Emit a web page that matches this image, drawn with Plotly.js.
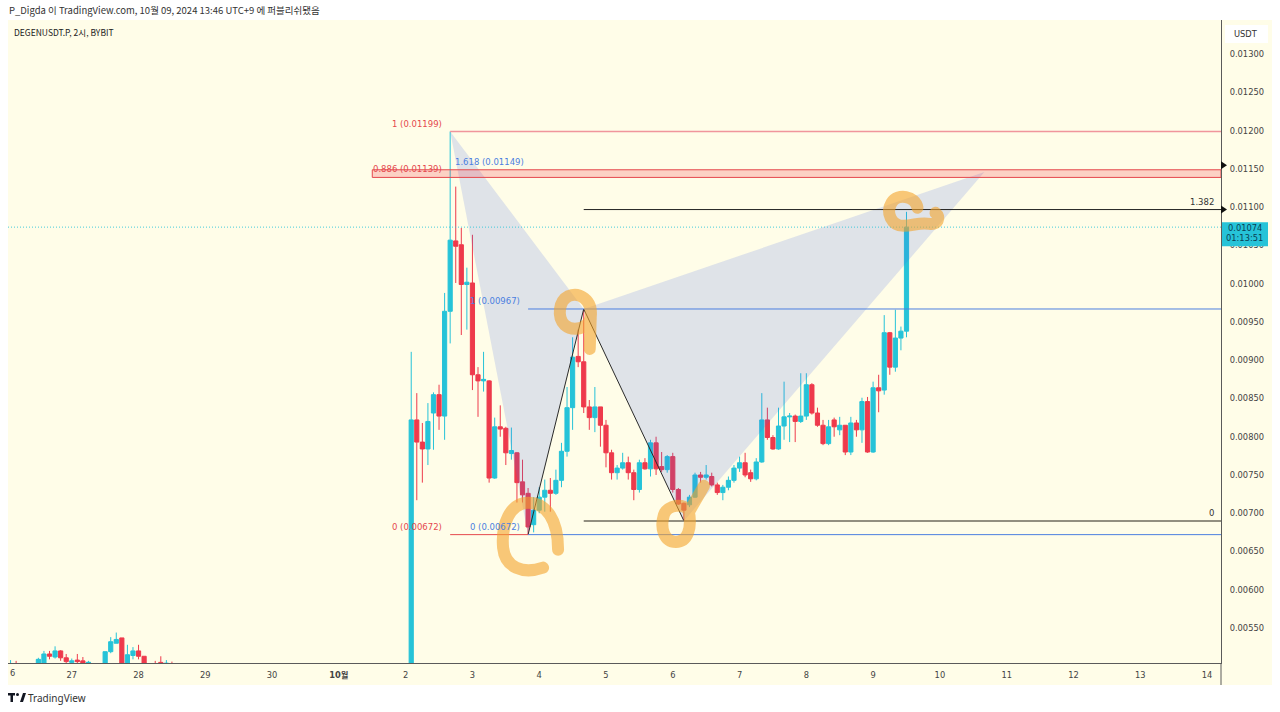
<!DOCTYPE html>
<html><head><meta charset="utf-8">
<script src="https://cdn.plot.ly/plotly-3.0.1.min.js"></script>
<style>html,body{margin:0;padding:0;background:#fff;}#chart{width:1280px;height:712px;}</style>
</head><body><div id="chart"></div>
<script>
// ---------------- DATA ----------------
// 2h candles, DEGENUSDT.P (BYBIT)
const earlyStart = Date.UTC(2024, 8, 26, 0);   // Sep 26 00:00
const earlySlots = [0,1,2,6,7,8,9,10,11,12,13,14,15,18,19,20,21,22,23,24,25,27,28,29,30];
const earlyOpen  = [0.00530,0.00495,0.00497,0.00496,0.00502,0.00516,0.00512,0.00520,0.00511,0.00505,0.00508,0.00507,0.00504,0.00498,0.00519,0.00530,0.00537,0.00502,0.00514,0.00520,0.00513,0.00503,0.00505,0.00501,0.00503];
const earlyHigh  = [0.00532,0.00508,0.00507,0.00511,0.00520,0.00520,0.00526,0.00521,0.00516,0.00510,0.00516,0.00512,0.00507,0.00519,0.00538,0.00544,0.00537,0.00528,0.00525,0.00528,0.00513,0.00507,0.00513,0.00508,0.00506];
const earlyLow   = [0.00490,0.00490,0.00492,0.00494,0.00500,0.00509,0.00510,0.00507,0.00503,0.00500,0.00500,0.00500,0.00500,0.00496,0.00517,0.00530,0.00497,0.00500,0.00509,0.00509,0.00500,0.00498,0.00499,0.00498,0.00498];
const earlyClose = [0.00495,0.00497,0.00494,0.00509,0.00516,0.00513,0.00520,0.00511,0.00506,0.00507,0.00506,0.00504,0.00505,0.00519,0.00532,0.00535,0.00500,0.00515,0.00520,0.00513,0.00503,0.00501,0.00503,0.00504,0.00502];

const mainStart = Date.UTC(2024, 9, 2, 2);     // Oct 2 02:00, consecutive 2h bars
const mainOpen = [0.00455,0.00822,0.00793,0.00784,0.00831,0.00855,0.00827,0.00964,0.01056,0.01051,
0.00999,0.01001,0.00881,0.00873,0.00873,0.00746,0.00813,0.00811,0.00778,0.00779,
0.00741,0.00726,0.00685,0.00704,0.00721,0.00730,0.00726,0.00743,0.00781,0.00838,
0.00905,0.00898,0.00839,0.00825,0.00839,0.00815,0.00779,0.00753,0.00759,0.00766,
0.00753,0.00731,0.00766,0.00758,0.00792,0.00761,0.00757,0.00774,0.00731,0.00713,
0.00711,0.00721,0.00750,0.00747,0.00748,0.00737,0.00727,0.00734,0.00743,0.00759,
0.00766,0.00753,0.00745,0.00767,0.00822,0.00799,0.00784,0.00814,0.00826,0.00827,
0.00820,0.00827,0.00868,0.00831,0.00815,0.00791,0.00822,0.00809,0.00815,0.00780,
0.00818,0.00809,0.00846,0.00780,0.00864,0.00861,0.00936,0.00891,0.00929,0.00938];
const mainHigh = [0.00911,0.00857,0.00818,0.00844,0.00858,0.00868,0.00988,0.01199,0.01127,0.01073,
0.01021,0.01064,0.00891,0.00911,0.00874,0.00825,0.00841,0.00813,0.00812,0.00780,
0.00770,0.00733,0.00721,0.00734,0.00744,0.00746,0.00757,0.00792,0.00865,0.00930,
0.00940,0.00967,0.00848,0.00865,0.00839,0.00822,0.00783,0.00763,0.00779,0.00774,
0.00757,0.00770,0.00772,0.00796,0.00800,0.00780,0.00776,0.00779,0.00733,0.00714,
0.00724,0.00753,0.00754,0.00763,0.00753,0.00740,0.00737,0.00748,0.00763,0.00774,
0.00779,0.00757,0.00772,0.00857,0.00838,0.00802,0.00838,0.00872,0.00831,0.00829,
0.00883,0.00883,0.00870,0.00838,0.00822,0.00822,0.00825,0.00826,0.00815,0.00826,
0.00822,0.00851,0.00852,0.00872,0.00881,0.00959,0.00937,0.00966,0.00944,0.01094];
const mainLow = [0.00450,0.00717,0.00740,0.00763,0.00783,0.00809,0.00796,0.00922,0.01001,0.00933,
0.00940,0.00861,0.00826,0.00859,0.00740,0.00745,0.00800,0.00763,0.00770,0.00714,
0.00714,0.00672,0.00675,0.00700,0.00702,0.00702,0.00724,0.00734,0.00774,0.00809,
0.00891,0.00831,0.00809,0.00806,0.00787,0.00760,0.00744,0.00744,0.00757,0.00744,
0.00717,0.00727,0.00757,0.00748,0.00750,0.00754,0.00753,0.00727,0.00711,0.00690,
0.00708,0.00720,0.00740,0.00744,0.00735,0.00724,0.00717,0.00730,0.00740,0.00754,
0.00747,0.00741,0.00743,0.00766,0.00796,0.00783,0.00783,0.00796,0.00793,0.00793,
0.00818,0.00822,0.00829,0.00813,0.00789,0.00789,0.00800,0.00802,0.00776,0.00776,
0.00800,0.00792,0.00779,0.00779,0.00832,0.00855,0.00881,0.00885,0.00913,0.00930];
const mainClose = [0.00822,0.00793,0.00784,0.00820,0.00855,0.00827,0.00964,0.01057,0.01049,0.00999,
0.01002,0.00881,0.00873,0.00875,0.00746,0.00813,0.00810,0.00779,0.00782,0.00740,
0.00724,0.00682,0.00704,0.00721,0.00730,0.00726,0.00743,0.00781,0.00838,0.00904,
0.00898,0.00839,0.00825,0.00839,0.00815,0.00779,0.00753,0.00759,0.00766,0.00753,
0.00731,0.00766,0.00758,0.00792,0.00758,0.00757,0.00774,0.00731,0.00712,0.00704,
0.00721,0.00750,0.00747,0.00750,0.00737,0.00727,0.00734,0.00743,0.00759,0.00766,
0.00750,0.00745,0.00767,0.00822,0.00799,0.00784,0.00814,0.00826,0.00827,0.00820,
0.00827,0.00868,0.00831,0.00815,0.00791,0.00813,0.00813,0.00815,0.00780,0.00818,
0.00809,0.00846,0.00780,0.00864,0.00860,0.00936,0.00891,0.00929,0.00938,0.01074];

// Harmonic pattern points
const patternNames  = ['X','A','B','C','D'];
const patternTimes  = ['2024-10-02 16:00','2024-10-03 20:00','2024-10-04 16:00','2024-10-06 04:00','2024-10-10 16:00'];
const patternPrices = [0.01199, 0.00672, 0.00967, 0.00690, 0.01146];

// Fib levels
const xaLevels = [1, 0.886, 0];      const xaPrices = [0.01199, 0.01139, 0.00672];
const abLevels = [1.618, 1, 0];      const abPrices = [0.01149, 0.00967, 0.00672];
const cdLevels = [1.382, 0];         const cdPrices = [0.01097, 0.00690];
const zoneStart = '2024-10-01 12:00';
const lastPrice = 0.01074;
const countdown = '01:13:51';

// Axis ticks
const tickDates  = ['2024-09-27','2024-09-28','2024-09-29','2024-09-30','2024-10-01','2024-10-02','2024-10-03','2024-10-04','2024-10-05','2024-10-06','2024-10-07','2024-10-08','2024-10-09','2024-10-10','2024-10-11','2024-10-12','2024-10-13','2024-10-14'];
const tickLabels = ['27','28','29','30','<b>10월</b>','2','3','4','5','6','7','8','9','10','11','12','13','14'];
const priceTicks = [0.0055,0.0060,0.0065,0.0070,0.0075,0.0080,0.0085,0.0090,0.0095,0.0100,0.0105,0.0110,0.0115,0.0120,0.0125,0.0130];

// ---------------- BUILD ----------------
function slot(startMs, k){ return new Date(startMs + k*7200000).toISOString().slice(0,16).replace('T',' '); }
const times = earlySlots.map(k => slot(earlyStart, k)).concat(mainOpen.map((_, i) => slot(mainStart, i)));
const O = earlyOpen.concat(mainOpen), H = earlyHigh.concat(mainHigh), Lo = earlyLow.concat(mainLow), C = earlyClose.concat(mainClose);

const xStart = '2024-09-26 01:05', xEnd = '2024-10-14 05:02';
const L=8, R=1221, T=20, B=663;
const fx = p => (p-L)/(R-L), fy = p => (B-p)/(B-T);

const CYAN='#26C3D8', RED='#EE3A4C', BLUE='#4C7FE0', FIBRED='#E5484D';

const traces = [
  {type:'scatter', mode:'lines', x:[patternTimes[0],patternTimes[1],patternTimes[2],patternTimes[0]], y:[patternPrices[0],patternPrices[1],patternPrices[2],patternPrices[0]],
   fill:'toself', fillcolor:'rgba(66,100,230,0.17)', line:{width:0}, hoverinfo:'skip', showlegend:false},
  {type:'scatter', mode:'lines', x:[patternTimes[2],patternTimes[3],patternTimes[4],patternTimes[2]], y:[patternPrices[2],patternPrices[3],patternPrices[4],patternPrices[2]],
   fill:'toself', fillcolor:'rgba(66,100,230,0.17)', line:{width:0}, hoverinfo:'skip', showlegend:false},
  {type:'candlestick', x:times, open:O, high:H, low:Lo, close:C,
   increasing:{line:{color:CYAN, width:1}, fillcolor:CYAN},
   decreasing:{line:{color:RED, width:1}, fillcolor:RED},
   whiskerwidth:0, hoverinfo:'skip', showlegend:false},
  {type:'scatter', mode:'lines', x:patternTimes.slice(1,4), y:patternPrices.slice(1,4), line:{color:'#2a2a2a', width:1}, hoverinfo:'skip', showlegend:false}
];

const hline = (x0, y, color, width, dash) => ({type:'line', xref:'x', yref:'y', x0:x0, x1:xEnd, y0:y, y1:y, line:{color:color, width:width, dash:dash||'solid'}, layer:'above'});

const orange = 'rgba(243,163,43,0.6)';
const scribble = (t, p, path) => ({type:'path', xref:'x', yref:'y', xsizemode:'pixel', ysizemode:'pixel', xanchor:t, yanchor:p, path:path, line:{color:orange, width:12}, layer:'above'});

const shapes = [
  {type:'rect', xref:'paper', yref:'paper', x0:fx(8), x1:fx(1272), y0:fy(685), y1:fy(20), fillcolor:'#FFFDE8', line:{width:0}, layer:'below'},
  {type:'rect', xref:'paper', yref:'paper', x0:fx(1225), x1:fx(1268), y0:fy(43), y1:fy(25), fillcolor:'#ffffff', line:{width:0}, layer:'above'},
  {type:'line', xref:'paper', yref:'paper', x0:1, x1:1, y0:fy(685), y1:0, line:{color:'#5a5a5a', width:1}},
  // fib / zone lines
  {type:'rect', xref:'x', yref:'y', x0:zoneStart, x1:xEnd, y0:xaPrices[1], y1:abPrices[0], fillcolor:'rgba(242,54,69,0.22)', line:{color:FIBRED, width:1}, layer:'above'},
  hline(patternTimes[0], xaPrices[0], '#F0959B', 1.5),
  {type:'line', xref:'x', yref:'y', x0:patternTimes[0], x1:patternTimes[1], y0:xaPrices[2], y1:xaPrices[2], line:{color:FIBRED, width:1}, layer:'above'},
  hline(patternTimes[1], abPrices[1], BLUE, 1),
  hline(patternTimes[1], abPrices[2], BLUE, 1),
  hline(patternTimes[2], cdPrices[0], '#222222', 1),
  hline(patternTimes[2], cdPrices[1], '#6e6a5e', 1.5),
  {type:'line', xref:'paper', yref:'y', x0:0, x1:1, y0:lastPrice, y1:lastPrice, line:{color:'rgba(38,195,216,0.85)', width:1, dash:'1px,2px'}, layer:'above'},
  // price tag + arrows on axis
  {type:'rect', xref:'paper', yref:'y', ysizemode:'pixel', yanchor:lastPrice, x0:fx(1222), x1:fx(1268), y0:-19, y1:5, fillcolor:CYAN, line:{width:0}, layer:'above'},
  {type:'path', xref:'paper', yref:'y', xsizemode:'pixel', ysizemode:'pixel', xanchor:1, yanchor:0.01155, path:'M0,4 L6,0 L0,-4 Z', fillcolor:'#111', line:{width:0}, layer:'above'},
  {type:'path', xref:'paper', yref:'y', xsizemode:'pixel', ysizemode:'pixel', xanchor:1, yanchor:cdPrices[0], path:'M0,4 L6,0 L0,-4 Z', fillcolor:'#111', line:{width:0}, layer:'above'},
  // hand drawn marks
  scribble(patternTimes[2], patternPrices[2], 'M7,-8 C9,10 -5,17 -15,13 C-25,8 -27,-8 -19,-16 C-11,-23 5,-20 7,-8 L6,-40'),
  scribble(patternTimes[1], patternPrices[1], 'M30,-15 C30,15 18,32 0,32 C-18,32 -27,10 -25,-13 C-23,-33 -5,-40 15,-33'),
  scribble(patternTimes[3], patternPrices[3], 'M5,9 C1,19 -17,16 -20,6 C-24,-7 -20,-21 -8,-21 C4,-21 8,-7 5,9 L20,35'),
  scribble(times[times.length-1], mainHigh[mainHigh.length-1], 'M11,4 C9,16 -9,19 -15,9 C-21,-1 -15,-14 -3,-14 C7,-14 13,-10 23,-12 C31,-13 35,-6 29,-1'),
  // TradingView logo
  {type:'path', xref:'paper', yref:'paper', xsizemode:'pixel', ysizemode:'pixel', xanchor:fx(8), yanchor:fy(702), path:'M0,9 L7,9 L7,6.5 L5,6.5 L5,0 L2.5,0 L2.5,6.5 L0,6.5 Z M12,0 L15,9 L18,9 L15,0 Z', fillcolor:'#131722', line:{width:0}},
  {type:'circle', xref:'paper', yref:'paper', xsizemode:'pixel', ysizemode:'pixel', xanchor:fx(8), yanchor:fy(702), x0:8, x1:11, y0:6, y1:9, fillcolor:'#131722', line:{width:0}}
];

const lblFont = (c) => ({family:'DejaVu Sans, Verdana, sans-serif', size:8.5, color:c});
const ann = [];
function fibLabel(t, p, text, color, xanchor, xshift){
  ann.push({xref:'x', yref:'y', x:t, y:p, text:text, showarrow:false, xanchor:xanchor, yanchor:'bottom', xshift:xshift, yshift:1, font:lblFont(color)});
}
fibLabel(patternTimes[0], xaPrices[0], xaLevels[0]+' ('+xaPrices[0].toFixed(5)+')', FIBRED, 'right', -6);
fibLabel(patternTimes[0], xaPrices[1], xaLevels[1]+' ('+xaPrices[1].toFixed(5)+')', FIBRED, 'right', -6);
fibLabel(patternTimes[0], abPrices[0], abLevels[0]+' ('+abPrices[0].toFixed(5)+')', BLUE, 'left', 3);
fibLabel(patternTimes[1], abPrices[1], abLevels[1]+' ('+abPrices[1].toFixed(5)+')', BLUE, 'right', -6);
fibLabel(patternTimes[0], xaPrices[2], xaLevels[2]+' ('+xaPrices[2].toFixed(5)+')', FIBRED, 'right', -6);
fibLabel(patternTimes[1], abPrices[2], abLevels[2]+' ('+abPrices[2].toFixed(5)+')', BLUE, 'right', -6);
ann.push({xref:'paper', yref:'y', x:1, y:cdPrices[0], text:String(cdLevels[0]), showarrow:false, xanchor:'right', yanchor:'bottom', xshift:-5, yshift:1, font:lblFont('#333')});
ann.push({xref:'paper', yref:'y', x:1, y:cdPrices[1], text:String(cdLevels[1]), showarrow:false, xanchor:'right', yanchor:'bottom', xshift:-5, yshift:1, font:lblFont('#333')});
// price tag text
ann.push({xref:'paper', yref:'y', x:fx(1245), y:lastPrice, text:lastPrice.toFixed(5), showarrow:false, xanchor:'center', yanchor:'middle', yshift:-1, font:{family:'DejaVu Sans, sans-serif', size:8.3, color:'#0b3f55'}});
ann.push({xref:'paper', yref:'y', x:fx(1245), y:lastPrice, text:countdown, showarrow:false, xanchor:'center', yanchor:'middle', yshift:-11, font:{family:'DejaVu Sans, sans-serif', size:8.3, color:'#0b3f55'}});
// headers
ann.push({xref:'paper', yref:'paper', x:fx(1246), y:fy(34), text:'USDT', showarrow:false, xanchor:'center', yanchor:'middle', font:{family:'DejaVu Sans, sans-serif', size:8.3, color:'#333'}});
ann.push({xref:'paper', yref:'paper', x:fx(7), y:fy(10), text:'P_Digda 이 TradingView.com, 10월 09, 2024 13:46 UTC+9 에 퍼블리쉬됐음', showarrow:false, xanchor:'left', yanchor:'middle', font:{family:'Noto Sans CJK KR, sans-serif', size:9.5, color:'#333'}});
ann.push({xref:'paper', yref:'paper', x:fx(12), y:fy(32), text:'DEGENUSDT.P, 2시, BYBIT', showarrow:false, xanchor:'left', yanchor:'middle', font:{family:'Noto Sans CJK KR, sans-serif', size:8.5, color:'#222'}});
ann.push({xref:'paper', yref:'paper', x:fx(8), y:fy(673), text:'6', showarrow:false, xanchor:'left', yanchor:'middle', font:{family:'DejaVu Sans, sans-serif', size:8.3, color:'#444'}});
ann.push({xref:'paper', yref:'paper', x:fx(26), y:fy(698), text:'TradingView', showarrow:false, xanchor:'left', yanchor:'middle', font:{family:'Noto Sans, sans-serif', size:10, color:'#333'}});

const layout = {
  width:1280, height:712,
  margin:{l:L, r:1280-R, t:T, b:712-B, pad:0},
  paper_bgcolor:'#ffffff', plot_bgcolor:'#FFFDE8',
  showlegend:false, dragmode:false, hovermode:false,
  boxgap:0.25, boxgroupgap:0,
  xaxis:{type:'date', range:[xStart, xEnd], rangeslider:{visible:false}, showgrid:false, zeroline:false,
    showline:true, linecolor:'#5a5a5a', linewidth:1, ticks:'', tickmode:'array', tickvals:tickDates, ticktext:tickLabels,
    tickfont:{family:'DejaVu Sans, Noto Sans CJK KR, sans-serif', size:8.3, color:'#444'}, ticklabelstandoff:4, fixedrange:true},
  yaxis:{side:'right', range:[0.005042, 0.013448], showgrid:false, zeroline:false, showline:true, linecolor:'#5a5a5a', linewidth:1,
    ticks:'', tickmode:'array', tickvals:priceTicks, tickformat:'.5f', ticklabelstandoff:6,
    tickfont:{family:'DejaVu Sans, sans-serif', size:8.3, color:'#444'}, fixedrange:true},
  shapes:shapes, annotations:ann
};

Plotly.newPlot('chart', traces, layout, {staticPlot:true, displayModeBar:false}).then(() => {
  document.querySelectorAll('.shapelayer path').forEach(p => {
    const s = p.style.stroke || p.getAttribute('stroke') || '';
    if (s.indexOf('243') >= 0 || s.indexOf('163') >= 0) { p.style.strokeLinecap = 'round'; p.style.strokeLinejoin = 'round'; }
  });
});
</script>
</body></html>
